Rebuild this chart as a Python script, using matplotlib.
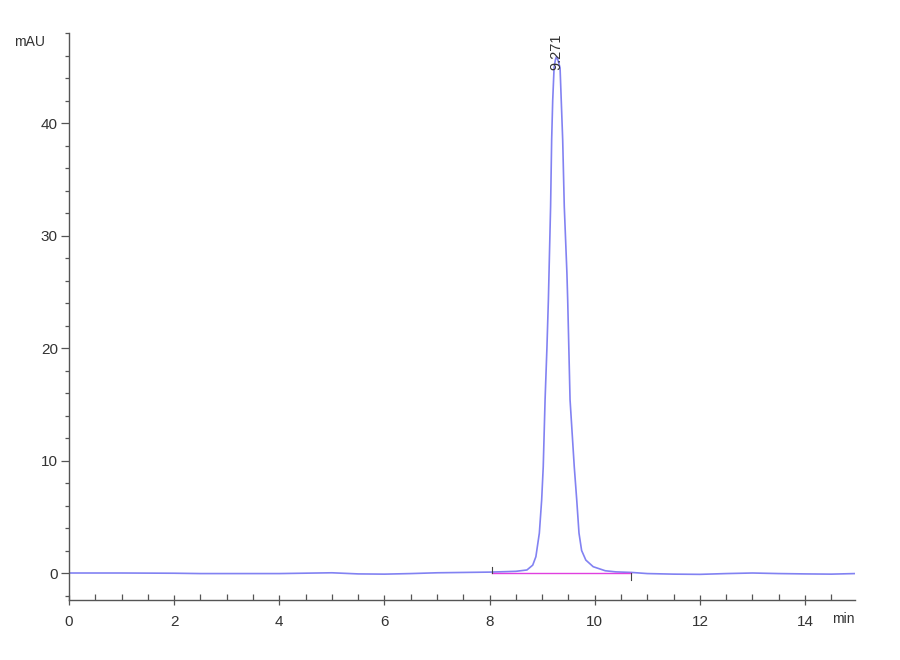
import matplotlib
matplotlib.use("Agg")
import matplotlib.pyplot as plt
from matplotlib.ticker import MultipleLocator

# chromatogram (time in min, signal in mAU)
time_min = [0.0, 1.0, 2.0, 2.5, 3.0, 4.0, 5.0, 5.5, 6.0, 6.5, 7.0, 7.5,
            8.0, 8.3, 8.5, 8.71, 8.82, 8.88, 8.946, 8.99, 9.02, 9.055,
            9.09, 9.118, 9.13, 9.16, 9.18, 9.2, 9.226, 9.25, 9.271, 9.3,
            9.34, 9.39, 9.42, 9.47, 9.485, 9.53, 9.61, 9.657, 9.70, 9.75,
            9.83, 9.97, 10.2, 10.4, 10.7, 11.0, 11.5, 12.0, 12.5, 13.0,
            13.5, 14.0, 14.5, 14.95]
signal_mau = [0.0, 0.0, -0.02, -0.05, -0.05, -0.05, 0.02, -0.08, -0.1,
              -0.05, 0.02, 0.05, 0.08, 0.12, 0.15, 0.27, 0.7, 1.45, 3.55,
              6.5, 9.45, 15.4, 20.0, 24.3, 26.7, 32.6, 38.5, 42.0, 44.9,
              45.6, 45.9, 45.6, 44.9, 38.5, 32.6, 26.7, 24.3, 15.4, 9.45,
              6.5, 3.55, 2.0, 1.15, 0.56, 0.2, 0.1, 0.05, -0.05, -0.1,
              -0.12, -0.05, 0.0, -0.05, -0.08, -0.1, -0.05]

peak_rt = 9.271
peak_label = "9.271"
base_start, base_end = 8.05, 10.68

plt.rcParams["font.family"] = ["Liberation Sans Narrow", "Liberation Sans", "DejaVu Sans"]

fig = plt.figure(figsize=(9, 6.6), dpi=100)
ax = fig.add_axes([0.0767, 0.0909, 0.8733, 0.859])

ax.plot(time_min, signal_mau, color="#8282f2", lw=1.2)
ax.plot([base_start, base_end], [0, 0], color="#e040e0", lw=1.0)

# integration start / end marks
ax.plot([base_start, base_start], [0, 0.5], color="#444444", lw=0.8)
ax.plot([base_end, base_end], [0, -0.6], color="#444444", lw=0.8)

ax.text(peak_rt, 44.7, peak_label, rotation=90, ha="center", va="bottom",
        fontsize=10.5, color="#333333")

ax.set_xlim(0, 14.95)
ax.set_ylim(-2.4, 48)

ax.xaxis.set_major_locator(MultipleLocator(2))
ax.xaxis.set_minor_locator(MultipleLocator(0.5))
ax.yaxis.set_major_locator(MultipleLocator(10))
ax.yaxis.set_minor_locator(MultipleLocator(2))

for s in ["top", "right"]:
    ax.spines[s].set_visible(False)
for s in ["left", "bottom"]:
    ax.spines[s].set_color("#555555")
    ax.spines[s].set_linewidth(1.0)

ax.tick_params(axis="x", which="major", direction="inout", length=7,
               width=0.9, colors="#555555", labelcolor="#333333",
               labelsize=11, pad=7)
ax.tick_params(axis="x", which="minor", direction="in", length=4,
               width=0.9, colors="#555555")
ax.tick_params(axis="y", which="major", direction="out", length=6,
               width=0.9, colors="#555555", labelcolor="#333333",
               labelsize=11, pad=2)
ax.tick_params(axis="y", which="minor", direction="out", length=3,
               width=0.9, colors="#555555")

ax.text(-0.03, 0.985, "mAU", transform=ax.transAxes, ha="right",
        va="center", fontsize=10, color="#333333")
ax.text(1.0, -0.034, "min", transform=ax.transAxes, ha="right",
        va="center", fontsize=10, color="#333333")

fig.savefig("out.png", dpi=100, facecolor="white")
